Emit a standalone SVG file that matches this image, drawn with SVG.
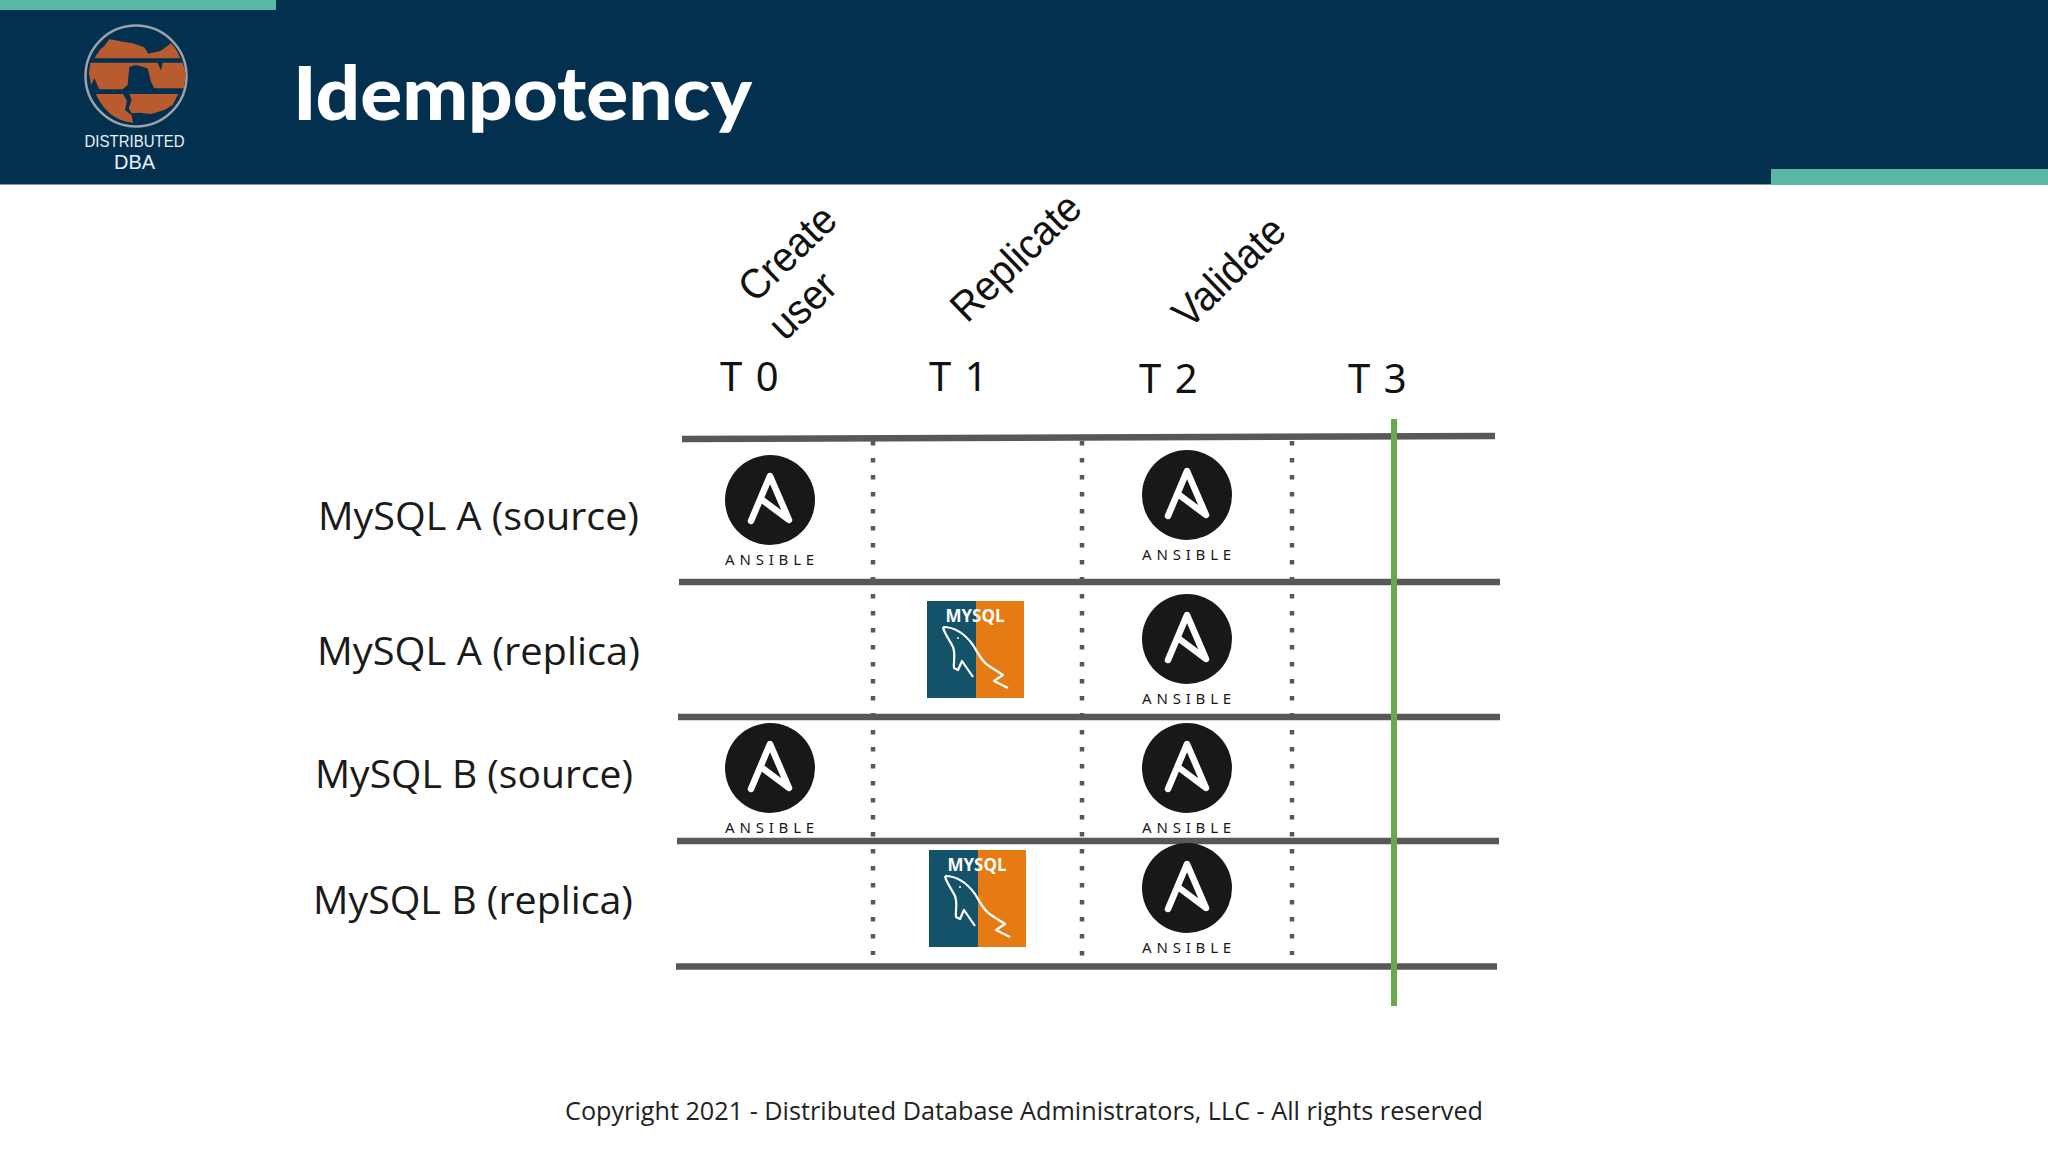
<svg xmlns="http://www.w3.org/2000/svg" width="2048" height="1152" viewBox="0 0 2048 1152">
<style>
.ln{stroke:#58585a;stroke-width:6.500;fill:none}
.dot{stroke:#58585a;stroke-width:4.500;stroke-dasharray:4.500 12.500;fill:none}
.row{font-family:"Open Sans","Noto Sans",sans-serif;font-size:39px;fill:#1a1a1a}
.t{font-family:"Noto Sans",sans-serif;font-size:40px;fill:#111;letter-spacing:1.500px}
.rot{font-family:"Liberation Sans",Arial,sans-serif;font-size:42px;fill:#111}
.ans{font-family:"Noto Sans",sans-serif;font-size:15px;fill:#1a1718;letter-spacing:4.800px;text-anchor:middle}
.org{fill:#b85c30}
</style>
<defs>
<g id="ansible">
<circle cx="0" cy="0" r="45" fill="#1a1718"/>
<path d="M-19 21 L0 -24 L19 20 L-9 -1" fill="none" stroke="#fff" stroke-width="6.500" stroke-linecap="round" stroke-linejoin="round"/>
<text class="ans" x="2" y="65">ANSIBLE</text>
</g>
<g id="mysql">
<rect x="0" y="0" width="49" height="97" fill="#14526a"/>
<rect x="49" y="0" width="48" height="97" fill="#e57b12"/>
<text x="48" y="21" text-anchor="middle" font-family="Open Sans,Noto Sans,sans-serif" font-weight="700" font-size="17px" fill="#fff">MYSQL</text>
<path d="M16 26 C28 26 38 33 46 44 C52 54 56 62 62 65 L76 74 L67 80 L81 87 M16 26 C17 32 22 38 26 46 C29 54 26 62 27 67 L31 69 L35 60 L46 76" fill="none" stroke="#fff" stroke-width="2.200" stroke-linejoin="round"/>
<circle cx="31" cy="37" r="1" fill="#fff"/>
</g>
</defs>
<rect width="2048" height="1152" fill="#fff"/>
<g id="header">
<rect x="0" y="0" width="2048" height="184.500" fill="#02304e"/>
<rect x="0" y="0" width="276" height="10" fill="#5cb8a6"/>
<rect x="1771" y="169" width="277" height="16" fill="#5cb8a6"/>
<text x="293" y="120" font-family="Lato,Roboto,sans-serif" font-weight="900" font-size="74px" fill="#fff" textLength="459" lengthAdjust="spacingAndGlyphs">Idempotency</text>
</g>
<g id="logo">
<circle cx="136" cy="76" r="50.500" fill="#02304e" stroke="#9ba3a8" stroke-width="2.500"/>
<g transform="translate(61 10) scale(0.3333)">
<path class="org" d="M100 145 L118 118 L130 108 L145 88 L160 90 L185 95 L215 100 L250 112 L262 131 L300 122 L330 100 L345 118 L358 145 Z"/>
<path class="org" d="M88 158 L84 190 L90 225 L100 205 L115 238 H185 L200 225 L205 170 L225 165 L260 175 L270 215 L280 235 H368 L375 190 L365 158 H305 L300 182 L290 158 Z"/>
<path class="org" d="M105 252 H186 L198 272 L192 300 L212 316 L216 338 C165 335 125 300 105 252 Z"/>
<path class="org" d="M205 252 H352 L335 285 L310 300 L270 312 L235 308 L212 310 L203 295 L212 270 Z"/>
</g>
<text x="134.500" y="147" text-anchor="middle" font-family="Liberation Sans,sans-serif" font-size="16.500px" fill="#e8f2f6" textLength="100" lengthAdjust="spacingAndGlyphs">DISTRIBUTED</text>
<text x="134.500" y="168.500" text-anchor="middle" font-family="Liberation Sans,sans-serif" font-size="21px" fill="#e8f2f6" textLength="41" lengthAdjust="spacingAndGlyphs">DBA</text>
</g>
<g id="connectors">
<path class="ln" d="M682 439 L1495 436"/>
<path class="ln" d="M679 582 H1500"/>
<path class="ln" d="M678 717 H1500"/>
<path class="ln" d="M677 841 H1499"/>
<path class="ln" d="M676 966.500 H1497"/>
<path class="dot" d="M873 441 V955"/>
<path class="dot" d="M1082 441 V958"/>
<path class="dot" d="M1292 441 V955"/>
<path d="M1394 419 V1006" stroke="#6aa84f" stroke-width="6" fill="none"/>
</g>
<g id="columns">
<text class="rot" transform="translate(755 304) rotate(-44) scale(0.93 1)">Create</text>
<text class="rot" transform="translate(785 342) rotate(-44) scale(0.93 1)">user</text>
<text class="rot" transform="translate(967 324) rotate(-44) scale(0.93 1)">Replicate</text>
<text class="rot" transform="translate(1189 330) rotate(-44) scale(0.93 1)">Validate</text>
<text class="t" x="720" y="391">T 0</text>
<text class="t" x="929" y="391">T 1</text>
<text class="t" x="1139" y="393">T 2</text>
<text class="t" x="1348" y="393">T 3</text>
</g>
<g id="row-a-source"><text class="row" x="318" y="530" textLength="321" lengthAdjust="spacingAndGlyphs">MySQL A (source)</text></g>
<g id="row-a-replica"><text class="row" x="317" y="665" textLength="323" lengthAdjust="spacingAndGlyphs">MySQL A (replica)</text></g>
<g id="row-b-source"><text class="row" x="315" y="788" textLength="318" lengthAdjust="spacingAndGlyphs">MySQL B (source)</text></g>
<g id="row-b-replica"><text class="row" x="313" y="914" textLength="320" lengthAdjust="spacingAndGlyphs">MySQL B (replica)</text></g>
<g id="ansible-1"><use href="#ansible" x="770" y="500"/></g>
<g id="ansible-2"><use href="#ansible" x="1187" y="495"/></g>
<g id="ansible-3"><use href="#ansible" x="1187" y="639"/></g>
<g id="ansible-4"><use href="#ansible" x="770" y="768"/></g>
<g id="ansible-5"><use href="#ansible" x="1187" y="768"/></g>
<g id="ansible-6"><use href="#ansible" x="1187" y="888"/></g>
<g id="mysql-1"><use href="#mysql" x="927" y="601"/></g>
<g id="mysql-2"><use href="#mysql" x="929" y="850"/></g>
<text x="1024" y="1120" text-anchor="middle" font-family="Open Sans,Noto Sans,sans-serif" font-size="26px" fill="#222" textLength="918" lengthAdjust="spacingAndGlyphs">Copyright 2021 - Distributed Database Administrators, LLC - All rights reserved</text>
</svg>
